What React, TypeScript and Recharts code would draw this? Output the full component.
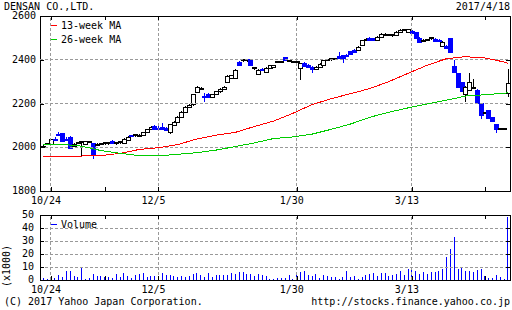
import React from 'react';
import { Bar, ComposedChart, Line, ReferenceArea, ReferenceLine, XAxis, YAxis } from 'recharts';

const FONT = '"DejaVu Sans Mono", monospace';
const BLUE = '#0000ff';
const GRID = '#999';

// TSE trading calendar for the period shown
const firstDay = '2016-10-20';
const lastDay = '2017-04-18';
const holidays = ['2016-11-03', '2016-11-23', '2016-12-23', '2017-01-02', '2017-01-03', '2017-01-09', '2017-03-20'];

const tradingDays: string[] = [];
for (let d = new Date(firstDay + 'T00:00:00Z'); d <= new Date(lastDay + 'T00:00:00Z'); d.setUTCDate(d.getUTCDate() + 1)) {
  const wd = d.getUTCDay();
  if (wd === 0 || wd === 6 || holidays.includes(d.toISOString().slice(0, 10))) continue;
  tradingDays.push(`${d.getUTCMonth() + 1}/${d.getUTCDate()}`);
}

const dateLabels = ['10/24', '12/5', '1/30', '3/13'];
const minorDates = ['11/14', '4/10'];
const priceTicks = [1800, 2000, 2200, 2400, 2600];
const volumeTicks = [0, 10, 20, 30, 40, 50];

const open = [
  2003, 2015, 2013, 2040, 2062, 2064, 2040, 2048, 2005, 2020, 2022, 2015, 2026, 2018, 2010, 2016, 2016, 2018, 2030, 2018,
  2020, 2018, 2035, 2056, 2055, 2050, 2057, 2070, 2082, 2098, 2090, 2092, 2090, 2068, 2104, 2117, 2140, 2163, 2186, 2196,
  2254, 2268, 2235, 2243, 2232, 2243, 2255, 2268, 2297, 2315, 2318, 2391, 2395, 2397, 2402, 2363, 2333, 2358, 2342, 2364,
  2366, 2388, 2390, 2411, 2394, 2392, 2390, 2362, 2384, 2378, 2368, 2356, 2365, 2378, 2398, 2402, 2405, 2418, 2420, 2422,
  2438, 2445, 2445, 2467, 2490, 2500, 2498, 2492, 2506, 2514, 2512, 2512, 2512, 2528, 2535, 2528, 2531, 2525, 2501, 2488,
  2492, 2496, 2495, 2492, 2464, 2464, 2498, 2373, 2338, 2297, 2245, 2262, 2270, 2262, 2201, 2155, 2170, 2138, 2105, 2084,
  2084, 2250,
];
const high = [
  2010, 2016, 2040, 2045, 2071, 2066, 2048, 2050, 2020, 2025, 2025, 2030, 2030, 2020, 2020, 2020, 2022, 2022, 2032, 2022,
  2024, 2042, 2050, 2058, 2058, 2060, 2072, 2085, 2096, 2100, 2102, 2110, 2094, 2106, 2120, 2142, 2165, 2188, 2196, 2245,
  2280, 2275, 2246, 2248, 2245, 2258, 2270, 2280, 2330, 2332, 2356, 2395, 2402, 2403, 2404, 2368, 2356, 2362, 2366, 2378,
  2378, 2394, 2396, 2414, 2398, 2396, 2394, 2386, 2388, 2382, 2372, 2370, 2385, 2400, 2404, 2406, 2408, 2437, 2424, 2426,
  2442, 2448, 2462, 2492, 2500, 2502, 2500, 2510, 2522, 2522, 2516, 2516, 2530, 2540, 2540, 2542, 2534, 2528, 2504, 2496,
  2497, 2500, 2499, 2496, 2485, 2468, 2500, 2399, 2340, 2300, 2278, 2338, 2312, 2265, 2204, 2160, 2172, 2140, 2108, 2088,
  2088, 2358,
];
const low = [
  1998, 2010, 2010, 2030, 2050, 2024, 2030, 1995, 2000, 2015, 1957, 2010, 2020, 1946, 2005, 2010, 2012, 2012, 2015, 2012,
  2015, 2015, 2030, 2048, 2048, 2045, 2055, 2065, 2078, 2080, 2078, 2080, 2078, 2062, 2100, 2112, 2135, 2160, 2180, 2190,
  2250, 2262, 2208, 2225, 2228, 2238, 2250, 2262, 2292, 2310, 2315, 2372, 2390, 2392, 2375, 2355, 2330, 2350, 2338, 2360,
  2362, 2385, 2386, 2396, 2388, 2386, 2386, 2307, 2370, 2366, 2338, 2352, 2362, 2375, 2394, 2396, 2398, 2404, 2384, 2412,
  2420, 2432, 2442, 2465, 2485, 2488, 2490, 2490, 2502, 2508, 2508, 2506, 2510, 2524, 2530, 2526, 2518, 2498, 2480, 2484,
  2486, 2492, 2484, 2484, 2460, 2452, 2430, 2340, 2270, 2252, 2205, 2258, 2266, 2198, 2128, 2150, 2132, 2118, 2064, 2080,
  2078, 2231,
];
const close = [
  2008, 2012, 2038, 2035, 2055, 2028, 2034, 1998, 2016, 2021, 2020, 2028, 2024, 1968, 2015, 2017, 2018, 2020, 2018, 2020,
  2022, 2040, 2048, 2050, 2052, 2057, 2070, 2082, 2094, 2085, 2082, 2084, 2080, 2104, 2117, 2140, 2163, 2186, 2192, 2242,
  2277, 2266, 2231, 2228, 2243, 2255, 2268, 2277, 2327, 2330, 2353, 2376, 2397, 2399, 2378, 2361, 2353, 2353, 2364, 2376,
  2375, 2391, 2392, 2399, 2392, 2391, 2390, 2384, 2372, 2368, 2360, 2368, 2382, 2398, 2400, 2400, 2402, 2408, 2410, 2415,
  2424, 2436, 2460, 2490, 2494, 2490, 2492, 2506, 2520, 2512, 2513, 2511, 2528, 2535, 2533, 2539, 2521, 2501, 2483, 2492,
  2490, 2498, 2486, 2488, 2483, 2455, 2437, 2346, 2277, 2257, 2275, 2297, 2269, 2201, 2147, 2155, 2135, 2120, 2084, 2085,
  2082, 2292,
];
// volume, x1000 shares
const volume = [
  1.8, 0.8, 2, 1.3, 3.8, 2.6, 6.9, 6.9, 3.1, 2, 9.5, 0.8, 1.3, 4.6, 3.1, 3.1, 2.6, 2, 1.8, 4.6,
  2.6, 5.6, 3.1, 1.5, 3.8, 4.6, 5.6, 2.6, 3.1, 3.1, 2.6, 5.1, 3.8, 3.8, 3.1, 2.6, 3.1, 2.6, 3.1, 4.6,
  5.6, 3.8, 2, 5.6, 2.6, 3.8, 3.8, 3.8, 3.8, 5.6, 4.6, 6.4, 6.4, 4.6, 4.6, 3.1, 4.6, 3.8, 3.1, 1,
  1, 1.3, 1.3, 1.8, 3.6, 1, 3.8, 6.4, 7.2, 3.8, 3.1, 4.6, 1.8, 3.6, 3.1, 2, 2.6, 1, 2, 7.2,
  2.6, 3.1, 1, 2.6, 3.8, 4.6, 5.6, 3.1, 5.6, 5.6, 3.1, 3.6, 4.6, 7.2, 3.8, 8.2, 7.7, 7.2, 4.6, 6.4,
  4.6, 6.4, 6.4, 7.2, 8.2, 18, 24, 33, 8.2, 9, 7.2, 7.2, 6.4, 7.7, 8.2, 3.1, 1.3, 1.3, 3.8, 2,
  1, 48.7,
];

// moving averages read at these trading-day positions
const maDays = [0, 5, 10, 15, 20, 25, 30, 35, 40, 45, 50, 55, 60, 65, 70, 75, 80, 85, 90, 95, 100, 105, 110, 115, 120, 121];
const ma13 = [
  1960, 1960, 1960, 1962, 1972, 1990, 1998, 2012, 2038, 2055, 2068, 2095, 2120, 2155, 2195, 2222, 2245, 2268, 2300, 2338,
  2375, 2405, 2414, 2408, 2390, 2384,
];
const ma26 = [
  2012, 2013, 2005, 1985, 1972, 1962, 1960, 1968, 1975, 1987, 2003, 2020, 2040, 2047, 2060, 2082, 2106, 2137, 2160, 2180,
  2198, 2215, 2234, 2240, 2247, 2249,
];

const rows = close.map((c, i) => {
  const k = maDays.indexOf(i);
  return {
    i,
    date: tradingDays[i],
    open: open[i],
    high: high[i],
    low: low[i],
    close: c,
    range: [low[i], high[i]],
    vol: volume[i],
    ma13: k >= 0 ? ma13[k] : null,
    ma26: k >= 0 ? ma26[k] : null,
  };
});

const X_DOMAIN: [number, number] = [-0.85, tradingDays.length - 0.45];
const labelAt = new Map(dateLabels.map((s) => [tradingDays.indexOf(s), s]));
const xTicks = [...dateLabels, ...minorDates].map((s) => tradingDays.indexOf(s)).sort((a, b) => a - b);
const gridDays = dateLabels.map((s) => tradingDays.indexOf(s));

const PLOT_W = 470;

const makeDateTick = (plotH: number) => (props: any) => {
  const { x, y, payload } = props;
  const label = labelAt.get(payload.value);
  const px = Math.round(x);
  return (
    <g>
      <line x1={px} x2={px} y1={y} y2={y - 4} stroke="#000" />
      <line x1={px} x2={px} y1={y - plotH} y2={y - plotH + 4} stroke="#000" />
      {label && (
        <text x={x - 5} y={y + 12.5} textAnchor="middle" fontFamily={FONT} fontSize={10} fill="#000">
          {label}
        </text>
      )}
    </g>
  );
};

const makeValueTick = (labelEnd: number) => (props: any) => {
  const { x, y, payload } = props;
  const py = Math.round(y);
  return (
    <g>
      <line x1={x} x2={x + 4} y1={py} y2={py} stroke="#000" />
      <line x1={x + PLOT_W - 4} x2={x + PLOT_W} y1={py} y2={py} stroke="#000" />
      <text x={labelEnd} y={y + 3} textAnchor="end" fontFamily={FONT} fontSize={10} fill="#000">
        {payload.value}
      </text>
    </g>
  );
};

const Candle = (props: any) => {
  const { x, y, width, height, payload } = props;
  const { open: o, high: h, low: l, close: c } = payload;
  const cx = Math.round(x + width / 2);
  const span = h - l || 1;
  const py = (v: number) => Math.round(y + ((h - v) / span) * height);
  const up = c > o;
  const doji = Math.abs(c - o) <= 3;
  const color = doji || up ? '#000' : BLUE;
  const top = py(Math.max(o, c));
  const bot = py(Math.min(o, c));
  return (
    <g>
      <line x1={cx} x2={cx} y1={Math.round(y)} y2={Math.round(y + height)} stroke={color} />
      {doji ? (
        <line x1={cx - 2} x2={cx + 3} y1={top} y2={top} stroke={color} strokeWidth={2} />
      ) : (
        <rect x={cx - 2} y={top} width={4} height={Math.max(bot - top, 1)} fill={up ? '#fff' : color} stroke={color} />
      )}
    </g>
  );
};

const VolumeBar = (props: any) => {
  const { x, y, width, height } = props;
  return <rect x={Math.round(x + width / 2)} y={y} width={1} height={height} fill={BLUE} />;
};

const txt = { fontFamily: FONT, fontSize: 10, fill: '#000' };

export default function App() {
  return (
    <div style={{ position: 'absolute', left: 0, top: 0, width: 512, height: 310, background: '#fff' }}>
      <style>{'svg line, svg rect, svg path { shape-rendering: crispEdges; }'}</style>
      <div style={{ position: 'absolute', left: 0, top: 0 }}>
        <ComposedChart width={512} height={211} data={rows} margin={{ top: 16, right: 2, bottom: 0, left: 0 }}>
          <XAxis
            dataKey="i"
            type="number"
            domain={X_DOMAIN}
            allowDataOverflow
            ticks={xTicks}
            interval={0}
            height={20}
            tickSize={0}
            tickMargin={0}
            axisLine={false}
            tickLine={false}
            tick={makeDateTick(175)}
          />
          <YAxis
            type="number"
            domain={[1800, 2600]}
            allowDataOverflow
            ticks={priceTicks}
            interval={0}
            width={40}
            tickSize={0}
            tickMargin={0}
            axisLine={false}
            tickLine={false}
            tick={makeValueTick(36)}
          />
          {[2000, 2200, 2400].map((v) => (
            <ReferenceLine key={v} y={v} stroke={GRID} strokeDasharray="3 2" />
          ))}
          {gridDays.map((d) => (
            <ReferenceLine key={d} x={d} stroke={GRID} strokeDasharray="3 2" />
          ))}
          <Line dataKey="ma13" stroke="#ff0000" dot={false} activeDot={false} connectNulls isAnimationActive={false} />
          <Line dataKey="ma26" stroke="#00cc00" dot={false} activeDot={false} connectNulls isAnimationActive={false} />
          <Bar dataKey="range" barSize={4} shape={<Candle />} isAnimationActive={false} />
          <ReferenceArea x1={X_DOMAIN[0]} x2={X_DOMAIN[1]} y1={1800} y2={2600} fill="none" stroke="#000" />
        </ComposedChart>
      </div>
      <div style={{ position: 'absolute', left: 0, top: 203 }}>
        <ComposedChart width={512} height={97} data={rows} margin={{ top: 12, right: 2, bottom: 0, left: 0 }}>
          <XAxis
            dataKey="i"
            type="number"
            domain={X_DOMAIN}
            allowDataOverflow
            ticks={xTicks}
            interval={0}
            height={20}
            tickSize={0}
            tickMargin={0}
            axisLine={false}
            tickLine={false}
            tick={makeDateTick(65)}
          />
          <YAxis
            type="number"
            domain={[0, 50]}
            allowDataOverflow
            ticks={volumeTicks}
            interval={0}
            width={40}
            tickSize={0}
            tickMargin={0}
            axisLine={false}
            tickLine={false}
            tick={makeValueTick(34)}
          />
          {[10, 20, 30, 40].map((v) => (
            <ReferenceLine key={v} y={v} stroke={GRID} strokeDasharray="3 2" />
          ))}
          {gridDays.map((d) => (
            <ReferenceLine key={d} x={d} stroke={GRID} strokeDasharray="3 2" />
          ))}
          <Bar dataKey="vol" barSize={1} shape={<VolumeBar />} isAnimationActive={false} />
          <ReferenceArea x1={X_DOMAIN[0]} x2={X_DOMAIN[1]} y1={0} y2={50} fill="none" stroke="#000" />
        </ComposedChart>
      </div>
      <svg width={512} height={310} style={{ position: 'absolute', left: 0, top: 0, pointerEvents: 'none' }}>
        <text x={4} y={10} {...txt}>DENSAN CO.,LTD.</text>
        <text x={510} y={10} textAnchor="end" {...txt}>2017/4/18</text>
        <line x1={51} x2={57} y1={25} y2={25} stroke="#ff0000" />
        <text x={61} y={29} {...txt}>13-week MA</text>
        <line x1={51} x2={57} y1={39} y2={39} stroke="#00cc00" />
        <text x={61} y={43} {...txt}>26-week MA</text>
        <line x1={51} x2={57} y1={224} y2={224} stroke={BLUE} />
        <text x={61} y={228} {...txt}>Volume</text>
        <text transform="translate(10,266) rotate(-90)" textAnchor="middle" {...txt}>(x1000)</text>
        <text x={4} y={305} {...txt}>(C) 2017 Yahoo Japan Corporation.</text>
        <text x={510} y={305} textAnchor="end" {...txt}>http://stocks.finance.yahoo.co.jp</text>
      </svg>
    </div>
  );
}
